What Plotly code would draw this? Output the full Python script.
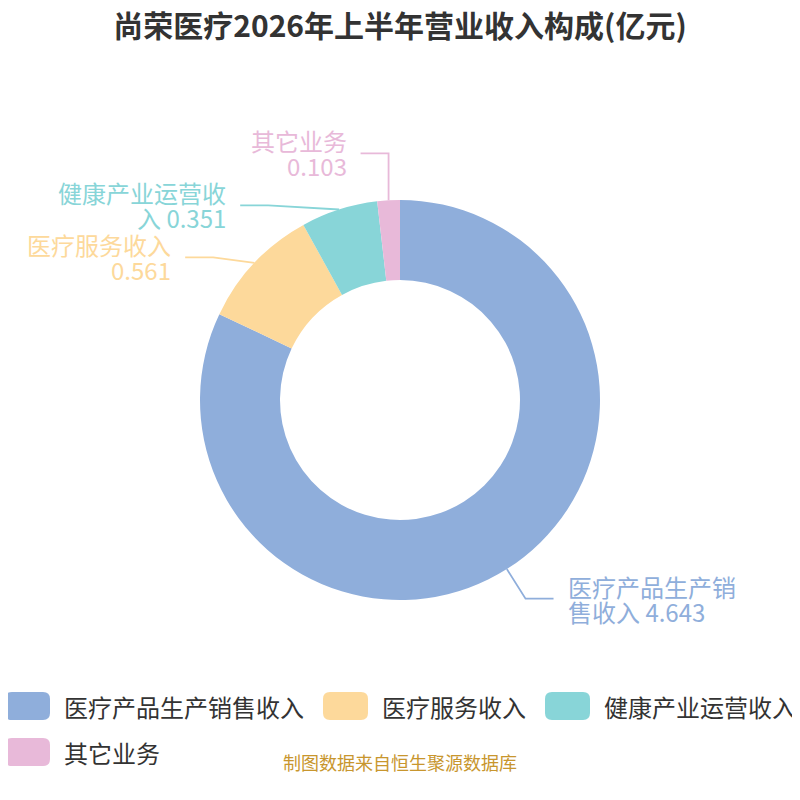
import math
import plotly.graph_objects as go

title = "尚荣医疗2026年上半年营业收入构成(亿元)"
categories = ["医疗产品生产销售收入", "医疗服务收入", "健康产业运营收入", "其它业务"]
values = [4.643, 0.561, 0.351, 0.103]
colors = ["#8FAEDB", "#FDD99B", "#88D5D8", "#E8B9D9"]
source = "制图数据来自恒生聚源数据库"

W = H = 800
PAGE = 8                        # body margin of the html page
cx, cy, R = 400, 400, 200       # donut centre and outer radius, window pixels
L1, L2, text_gap = 35, 28, 12   # leader line lengths
font_cjk = "Noto Sans CJK SC"
label_size = 24
line_h = 25
legend_size = 24


def px(x):
    return (x - PAGE) / W


def py(y):
    return 1 - (y - PAGE) / H


def wrap(name, value, max_chars=7):
    parts = [name[i:i + max_chars] for i in range(0, len(name), max_chars)]
    if len(parts) == 1:
        parts.append(f"{value}")
    else:
        parts[-1] += f" {value}"
    return parts


def spread(ys, gap):
    # push overlapping labels apart, half downward cascade, half balanced
    down = list(ys)
    for i in range(1, len(down)):
        down[i] = max(down[i], down[i - 1] + gap)
    sym = list(ys)
    for _ in range(200):
        for i in range(1, len(sym)):
            d = gap - (sym[i] - sym[i - 1])
            if d > 0:
                sym[i - 1] -= d / 2
                sym[i] += d / 2
    return [(a + b) / 2 for a, b in zip(down, sym)]


fig = go.Figure(go.Pie(
    labels=categories, values=values, hole=0.6, sort=False, direction="clockwise",
    marker=dict(colors=colors, line=dict(width=0)), textinfo="none",
    domain=dict(x=[px(cx - R), px(cx + R)], y=[py(cy + R), py(cy - R)]),
    showlegend=False,
))

# outside labels with leader lines, placed from the slice angles
total = sum(values)
items = []
acc = 0
for name, v, c in zip(categories, values, colors):
    mid = (acc + v / 2) / total * 2 * math.pi
    acc += v
    sx, sy = math.sin(mid), -math.cos(mid)
    items.append(dict(color=c, ax=cx + R * sx, ay=cy + R * sy,
                      y=cy + (R + L1) * sy, side=1 if sx >= 0 else -1,
                      lines=wrap(name, v)))

shapes = []
annotations = []
r1 = R + L1
for side in (1, -1):
    group = sorted([it for it in items if it["side"] == side], key=lambda it: it["y"])
    ys = spread([it["y"] for it in group], 52)
    for it, y in zip(group, ys):
        dy = abs(y - cy)
        ex = cx + side * math.sqrt(r1 ** 2 - dy ** 2) if dy < r1 else it["ax"]
        end = ex + side * L2
        shapes.append(dict(
            type="path", xref="paper", yref="paper",
            path=f"M{px(it['ax'])},{py(it['ay'])} L{px(ex)},{py(y)} L{px(end)},{py(y)}",
            line=dict(color=it["color"], width=1.8)))
        n = len(it["lines"])
        for i, t in enumerate(it["lines"]):
            ly = y + (i - (n - 1) / 2) * line_h
            annotations.append(dict(
                text=t, x=px(end + side * text_gap), y=py(ly), xref="paper", yref="paper",
                xanchor="left" if side > 0 else "right", yanchor="middle", showarrow=False,
                font=dict(family=font_cjk, size=label_size, color=it["color"])))


def rrect(x0, y0, x1, y1, r):
    return (f"M{px(x0 + r)},{py(y0)} L{px(x1 - r)},{py(y0)} Q{px(x1)},{py(y0)} {px(x1)},{py(y0 + r)} "
            f"L{px(x1)},{py(y1 - r)} Q{px(x1)},{py(y1)} {px(x1 - r)},{py(y1)} "
            f"L{px(x0 + r)},{py(y1)} Q{px(x0)},{py(y1)} {px(x0)},{py(y1 - r)} "
            f"L{px(x0)},{py(y0 + r)} Q{px(x0)},{py(y0)} {px(x0 + r)},{py(y0)} Z")


# legend drawn by hand so the swatches can be large rounded boxes
lx, row_y = 5, 706
for name, c in zip(categories, colors):
    item_w = 45 + 12 + len(name) * legend_size
    if lx + item_w > W:
        lx, row_y = 5, row_y + 46
    shapes.append(dict(type="path", xref="paper", yref="paper",
                       path=rrect(lx, row_y - 14, lx + 45, row_y + 14, 7),
                       fillcolor=c, line=dict(width=0)))
    annotations.append(dict(text=name, x=px(lx + 57), y=py(row_y), xref="paper", yref="paper",
                            xanchor="left", yanchor="middle", showarrow=False,
                            font=dict(family=font_cjk, size=legend_size, color="#333333")))
    lx += item_w + 21

annotations.append(dict(text=source, x=px(400), y=py(762), xref="paper", yref="paper",
                        xanchor="center", yanchor="middle", showarrow=False,
                        font=dict(family=font_cjk, size=18, color="#C8962E")))

fig.update_layout(
    width=W, height=H,
    margin=dict(l=0, r=0, t=0, b=0),
    paper_bgcolor="white", plot_bgcolor="white",
    title=dict(text=f"<b>{title}</b>", x=px(400), xanchor="center", y=py(26), yanchor="middle",
               font=dict(family=font_cjk, size=30, color="#333333")),
    shapes=shapes, annotations=annotations,
)

fig.write_html("out.html")
